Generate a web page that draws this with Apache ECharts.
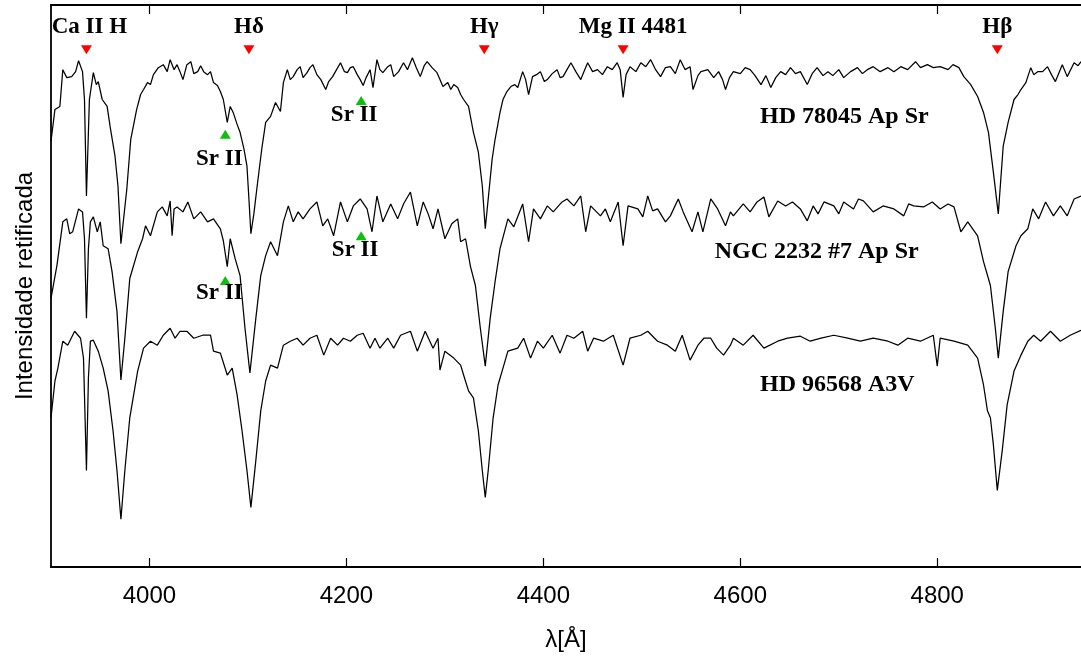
<!DOCTYPE html>
<html><head><meta charset="utf-8">
<script src="https://cdn.jsdelivr.net/npm/echarts@6/dist/echarts.min.js"></script>
<style>html,body{margin:0;padding:0;background:#fff}#c{width:1081px;height:657px}</style>
</head><body><div id="c"></div>
<script>
// Wavelength [Å], rectified intensity (with vertical offsets)
const hd78045 = [[3900,4.28],[3904,4.60],[3909,4.63],[3912,5.00],[3916,4.92],[3921,4.93],[3925,4.98],[3928,5.09],[3932,4.98],[3934,4.70],[3936,3.73],[3939,4.70],[3943,4.97],[3946,4.85],[3948,4.88],[3952,4.70],[3957,4.63],[3960,4.43],[3965,4.13],[3968,3.83],[3971,3.25],[3977,3.80],[3981,4.30],[3987,4.60],[3991,4.75],[3994,4.80],[3998,4.87],[4001,4.85],[4004,4.95],[4009,5.02],[4014,5.05],[4018,4.98],[4021,5.10],[4025,5.00],[4028,5.05],[4031,4.98],[4034,4.90],[4038,5.05],[4042,5.08],[4045,4.96],[4049,4.98],[4052,5.04],[4055,4.98],[4059,4.95],[4062,4.98],[4065,4.87],[4069,4.84],[4072,4.78],[4075,4.70],[4079,4.47],[4082,4.63],[4085,4.57],[4089,4.45],[4092,4.37],[4096,4.20],[4099,4.03],[4101,3.70],[4103,3.35],[4106,3.55],[4109,3.80],[4114,4.20],[4118,4.47],[4123,4.53],[4128,4.67],[4133,4.58],[4136,4.87],[4140,5.00],[4143,4.90],[4146,4.93],[4150,5.00],[4153,5.03],[4156,4.92],[4160,4.97],[4163,5.02],[4166,5.05],[4170,4.95],[4174,4.90],[4179,4.80],[4182,4.88],[4186,4.93],[4190,5.00],[4194,5.07],[4198,4.98],[4201,4.97],[4204,5.02],[4207,5.03],[4211,4.95],[4214,4.90],[4217,4.84],[4220,4.92],[4224,5.00],[4227,4.82],[4231,5.10],[4234,5.00],[4237,4.97],[4242,5.03],[4245,5.05],[4248,4.93],[4253,4.98],[4258,5.07],[4262,5.00],[4267,5.12],[4271,5.02],[4275,4.93],[4279,5.04],[4282,5.08],[4287,5.02],[4292,4.97],[4295,4.90],[4298,4.83],[4303,4.87],[4306,4.80],[4309,4.85],[4313,4.82],[4316,4.75],[4319,4.70],[4324,4.63],[4329,4.37],[4334,4.17],[4338,3.83],[4341,3.40],[4345,3.80],[4348,4.10],[4351,4.30],[4356,4.57],[4359,4.70],[4363,4.78],[4367,4.83],[4371,4.85],[4374,4.82],[4379,4.98],[4382,4.90],[4385,4.75],[4389,4.93],[4393,4.95],[4397,4.98],[4401,4.88],[4404,4.90],[4409,4.96],[4414,5.00],[4417,4.92],[4420,4.93],[4424,5.00],[4428,5.07],[4433,4.98],[4438,4.90],[4442,5.00],[4445,5.07],[4450,4.98],[4455,5.00],[4460,4.95],[4465,5.03],[4470,5.00],[4475,5.07],[4478,5.00],[4481,4.72],[4484,4.95],[4488,5.03],[4494,4.98],[4499,5.07],[4504,5.03],[4509,5.10],[4514,5.00],[4519,4.93],[4524,5.02],[4529,5.03],[4534,4.96],[4539,5.10],[4544,5.00],[4549,5.03],[4552,4.80],[4557,4.94],[4560,4.98],[4567,5.00],[4573,4.92],[4578,4.98],[4582,4.90],[4585,4.80],[4589,4.92],[4593,4.98],[4600,4.96],[4605,5.02],[4610,5.00],[4615,4.94],[4621,4.85],[4626,4.94],[4631,4.82],[4636,4.92],[4641,4.98],[4646,4.95],[4651,5.02],[4656,4.96],[4661,4.98],[4668,4.85],[4673,4.96],[4678,5.02],[4684,4.94],[4689,4.98],[4694,4.94],[4700,5.00],[4705,4.92],[4712,4.98],[4719,5.02],[4724,4.96],[4729,5.00],[4735,5.03],[4742,4.98],[4750,5.02],[4756,4.98],[4763,5.03],[4770,5.00],[4778,5.08],[4783,5.02],[4790,5.05],[4796,5.02],[4803,5.03],[4811,5.00],[4816,5.05],[4822,5.02],[4827,4.93],[4834,4.85],[4841,4.73],[4847,4.57],[4852,4.37],[4857,3.97],[4862,3.55],[4867,4.23],[4872,4.47],[4878,4.70],[4882,4.75],[4885,4.80],[4890,4.87],[4895,5.02],[4898,4.95],[4902,4.98],[4907,4.98],[4912,5.03],[4916,4.95],[4920,4.88],[4927,5.05],[4932,4.93],[4939,5.07],[4943,5.04],[4946,5.08]];

const ngc2232 = [[3900,2.70],[3906,3.03],[3912,3.47],[3916,3.50],[3919,3.35],[3922,3.37],[3928,3.60],[3932,3.57],[3934,3.30],[3936,2.50],[3938,3.20],[3940,3.47],[3943,3.52],[3947,3.37],[3950,3.47],[3953,3.23],[3958,3.20],[3962,2.97],[3967,2.57],[3971,1.88],[3975,2.30],[3980,2.90],[3988,3.17],[3993,3.30],[3996,3.43],[4001,3.33],[4008,3.57],[4013,3.62],[4018,3.53],[4021,3.68],[4023,3.33],[4025,3.60],[4028,3.62],[4034,3.57],[4039,3.67],[4045,3.50],[4052,3.57],[4059,3.47],[4065,3.50],[4072,3.40],[4075,3.28],[4079,3.02],[4082,3.30],[4087,3.10],[4092,2.93],[4097,2.40],[4102,1.95],[4108,2.50],[4113,2.93],[4118,3.13],[4123,3.27],[4130,3.13],[4136,3.47],[4141,3.63],[4146,3.47],[4151,3.57],[4156,3.50],[4163,3.60],[4170,3.67],[4176,3.43],[4181,3.50],[4187,3.33],[4194,3.67],[4201,3.47],[4207,3.63],[4214,3.70],[4221,3.60],[4226,3.37],[4231,3.73],[4237,3.47],[4245,3.65],[4252,3.50],[4258,3.65],[4265,3.77],[4272,3.43],[4278,3.67],[4283,3.55],[4288,3.40],[4293,3.60],[4300,3.30],[4307,3.45],[4313,3.50],[4316,3.27],[4321,3.30],[4326,3.02],[4331,2.83],[4336,2.40],[4341,2.02],[4346,2.50],[4351,2.87],[4356,3.20],[4364,3.50],[4370,3.42],[4379,3.65],[4385,3.27],[4390,3.60],[4397,3.50],[4404,3.63],[4410,3.57],[4419,3.67],[4424,3.70],[4431,3.63],[4438,3.73],[4443,3.37],[4448,3.63],[4458,3.53],[4463,3.60],[4468,3.47],[4476,3.67],[4481,3.23],[4486,3.63],[4496,3.60],[4501,3.52],[4506,3.73],[4511,3.58],[4516,3.60],[4524,3.47],[4529,3.53],[4537,3.70],[4542,3.57],[4551,3.37],[4557,3.57],[4562,3.37],[4570,3.70],[4577,3.60],[4585,3.43],[4590,3.57],[4593,3.53],[4603,3.65],[4610,3.57],[4617,3.67],[4624,3.72],[4629,3.52],[4638,3.68],[4646,3.63],[4653,3.67],[4661,3.60],[4668,3.48],[4674,3.63],[4679,3.55],[4685,3.67],[4695,3.63],[4700,3.55],[4705,3.67],[4715,3.60],[4720,3.70],[4725,3.68],[4735,3.57],[4745,3.63],[4756,3.60],[4766,3.53],[4771,3.65],[4776,3.63],[4786,3.62],[4795,3.67],[4803,3.60],[4811,3.65],[4817,3.62],[4824,3.37],[4831,3.47],[4841,3.33],[4847,3.07],[4854,2.83],[4859,2.40],[4862,2.10],[4867,2.57],[4872,2.97],[4880,3.23],[4885,3.33],[4892,3.40],[4897,3.60],[4903,3.50],[4910,3.67],[4918,3.53],[4925,3.63],[4932,3.53],[4939,3.70],[4946,3.73]];

const hd96568 = [[3900,1.50],[3904,1.87],[3907,2.00],[3912,2.27],[3917,2.23],[3924,2.37],[3930,2.30],[3933,2.10],[3936,0.97],[3938,1.90],[3940,2.27],[3943,2.28],[3948,2.17],[3953,2.00],[3958,1.77],[3963,1.37],[3967,0.97],[3971,0.48],[3975,0.97],[3980,1.50],[3988,1.97],[3994,2.20],[4001,2.27],[4008,2.23],[4014,2.33],[4021,2.40],[4026,2.30],[4031,2.37],[4038,2.37],[4045,2.30],[4054,2.33],[4062,2.33],[4065,2.17],[4072,2.15],[4079,1.93],[4084,2.00],[4089,1.73],[4094,1.37],[4099,0.97],[4103,0.60],[4108,1.07],[4113,1.57],[4118,1.87],[4123,2.03],[4130,2.00],[4136,2.23],[4143,2.27],[4150,2.30],[4156,2.23],[4163,2.30],[4170,2.33],[4177,2.13],[4184,2.30],[4191,2.23],[4197,2.30],[4204,2.27],[4211,2.33],[4217,2.35],[4224,2.20],[4229,2.30],[4234,2.20],[4242,2.30],[4248,2.20],[4255,2.33],[4265,2.37],[4272,2.17],[4280,2.37],[4288,2.20],[4293,2.30],[4295,1.98],[4300,2.17],[4309,2.10],[4316,2.03],[4319,1.93],[4324,1.77],[4329,1.70],[4334,1.37],[4338,0.97],[4341,0.70],[4344,0.97],[4349,1.50],[4354,1.83],[4359,2.00],[4364,2.17],[4374,2.20],[4380,2.30],[4387,2.10],[4394,2.27],[4400,2.20],[4409,2.33],[4417,2.15],[4424,2.33],[4431,2.30],[4440,2.37],[4445,2.17],[4451,2.30],[4461,2.27],[4471,2.33],[4481,2.03],[4488,2.30],[4499,2.33],[4506,2.37],[4516,2.27],[4526,2.23],[4534,2.17],[4541,2.33],[4549,2.08],[4557,2.23],[4563,2.30],[4570,2.30],[4576,2.20],[4583,2.13],[4590,2.23],[4593,2.30],[4603,2.23],[4613,2.33],[4624,2.20],[4638,2.27],[4648,2.30],[4661,2.32],[4671,2.27],[4682,2.30],[4695,2.33],[4709,2.30],[4722,2.27],[4735,2.30],[4750,2.27],[4760,2.23],[4770,2.30],[4783,2.27],[4796,2.33],[4800,2.02],[4803,2.30],[4817,2.27],[4831,2.23],[4841,2.10],[4847,1.83],[4851,1.57],[4854,1.50],[4857,1.23],[4861,0.77],[4866,1.17],[4871,1.63],[4878,1.97],[4885,2.13],[4892,2.27],[4898,2.33],[4905,2.27],[4915,2.37],[4925,2.27],[4935,2.33],[4946,2.38]];

// Line identifications (red markers above spectra)
const lineNames = ['Ca II H', 'Hδ', 'Hγ', 'Mg II 4481', 'Hβ'];
const lineWaves = [3936, 4101, 4340, 4481, 4861];
const lineMarkY = 5.20;
// Sr II markers (green)
const srWaves = [4077, 4215, 4077, 4215];
const srY = [4.35, 4.69, 2.88, 3.33];
// Star labels
const starNames = ['HD 78045 Ap Sr', 'NGC 2232 #7 Ap Sr', 'HD 96568 A3V'];
const starLabelX = [4620, 4574, 4620];
const starLabelY = [4.53, 3.17, 1.83];
const xTicks = [4000, 4200, 4400, 4600, 4800];

const serif = '"Liberation Serif", "Times New Roman", serif';
const sans = '"Liberation Sans", Arial, sans-serif';
const lineOffsets = [[3, 0], [0, 0], [0, 0], [10, 0], [0, 0]];
const srOffsets = [[-6, 25], [-7, 15], [-6, 13], [-6, 14]];

const chart = echarts.init(document.getElementById('c'), null, {renderer: 'canvas'});
const spec = (d) => ({type: 'line', data: d, showSymbol: false, symbol: 'none', silent: true,
  lineStyle: {color: '#000', width: 1.25}, xAxisIndex: 0, yAxisIndex: 0});
const lbl = (extra) => Object.assign({show: true, fontFamily: serif, fontWeight: 'bold', fontSize: 23,
  color: '#000', textBorderWidth: 0, opacity: 1}, extra);

chart.setOption({
  animation: false,
  backgroundColor: '#fff',
  grid: {left: 51, right: 0, top: 5, bottom: 87, containLabel: false},
  xAxis: [{
    type: 'value', min: 3900, max: 4946, position: 'bottom',
    name: 'λ[Å]', nameLocation: 'middle', nameGap: 61,
    nameTextStyle: {fontFamily: sans, fontSize: 24, color: '#000'},
    axisLine: {show: true, onZero: false, lineStyle: {color: '#000', width: 1.8}},
    axisTick: {show: true, inside: true, length: 9, customValues: xTicks, lineStyle: {color: '#000', width: 1.2}},
    axisLabel: {show: true, customValues: xTicks, margin: 17, fontFamily: sans, fontSize: 24, color: '#000',
      formatter: (v) => String(v)},
    splitLine: {show: false}
  }, {
    type: 'value', min: 3900, max: 4946, position: 'top',
    axisLine: {show: true, onZero: false, lineStyle: {color: '#000', width: 1.8}},
    axisTick: {show: true, inside: true, length: 9, customValues: xTicks, lineStyle: {color: '#000', width: 1.2}},
    axisLabel: {show: false},
    splitLine: {show: false}
  }],
  yAxis: {
    type: 'value', min: 0, max: 5.65,
    name: 'Intensidade retificada', nameLocation: 'middle', nameGap: 14,
    nameTextStyle: {fontFamily: sans, fontSize: 24, color: '#000'},
    axisLine: {show: true, onZero: false, lineStyle: {color: '#000', width: 1.8}},
    axisTick: {show: false}, axisLabel: {show: false}, splitLine: {show: false}
  },
  series: [
    spec(hd78045), spec(ngc2232), spec(hd96568),
    {
      type: 'scatter', symbol: 'triangle', symbolRotate: 180, symbolSize: [11, 9],
      itemStyle: {color: '#ff0000', opacity: 1},
      data: lineWaves.map((w, i) => ({value: [w, lineMarkY], name: lineNames[i],
        label: lbl({position: 'inside', offset: [lineOffsets[i][0], -23], formatter: lineNames[i]})}))
    },
    {
      type: 'scatter', symbol: 'triangle', symbolSize: [11, 9],
      itemStyle: {color: '#0fbf0f', opacity: 1},
      data: srWaves.map((w, i) => ({value: [w, srY[i]],
        label: lbl({position: 'inside', offset: srOffsets[i], formatter: 'Sr II'})}))
    },
    {
      type: 'scatter', symbolSize: 0, silent: true,
      itemStyle: {opacity: 1},
      data: starNames.map((n, i) => ({value: [starLabelX[i], starLabelY[i]],
        label: lbl({position: 'right', distance: 0, formatter: n, fontSize: 24})}))
    }
  ]
});
</script></body></html>
